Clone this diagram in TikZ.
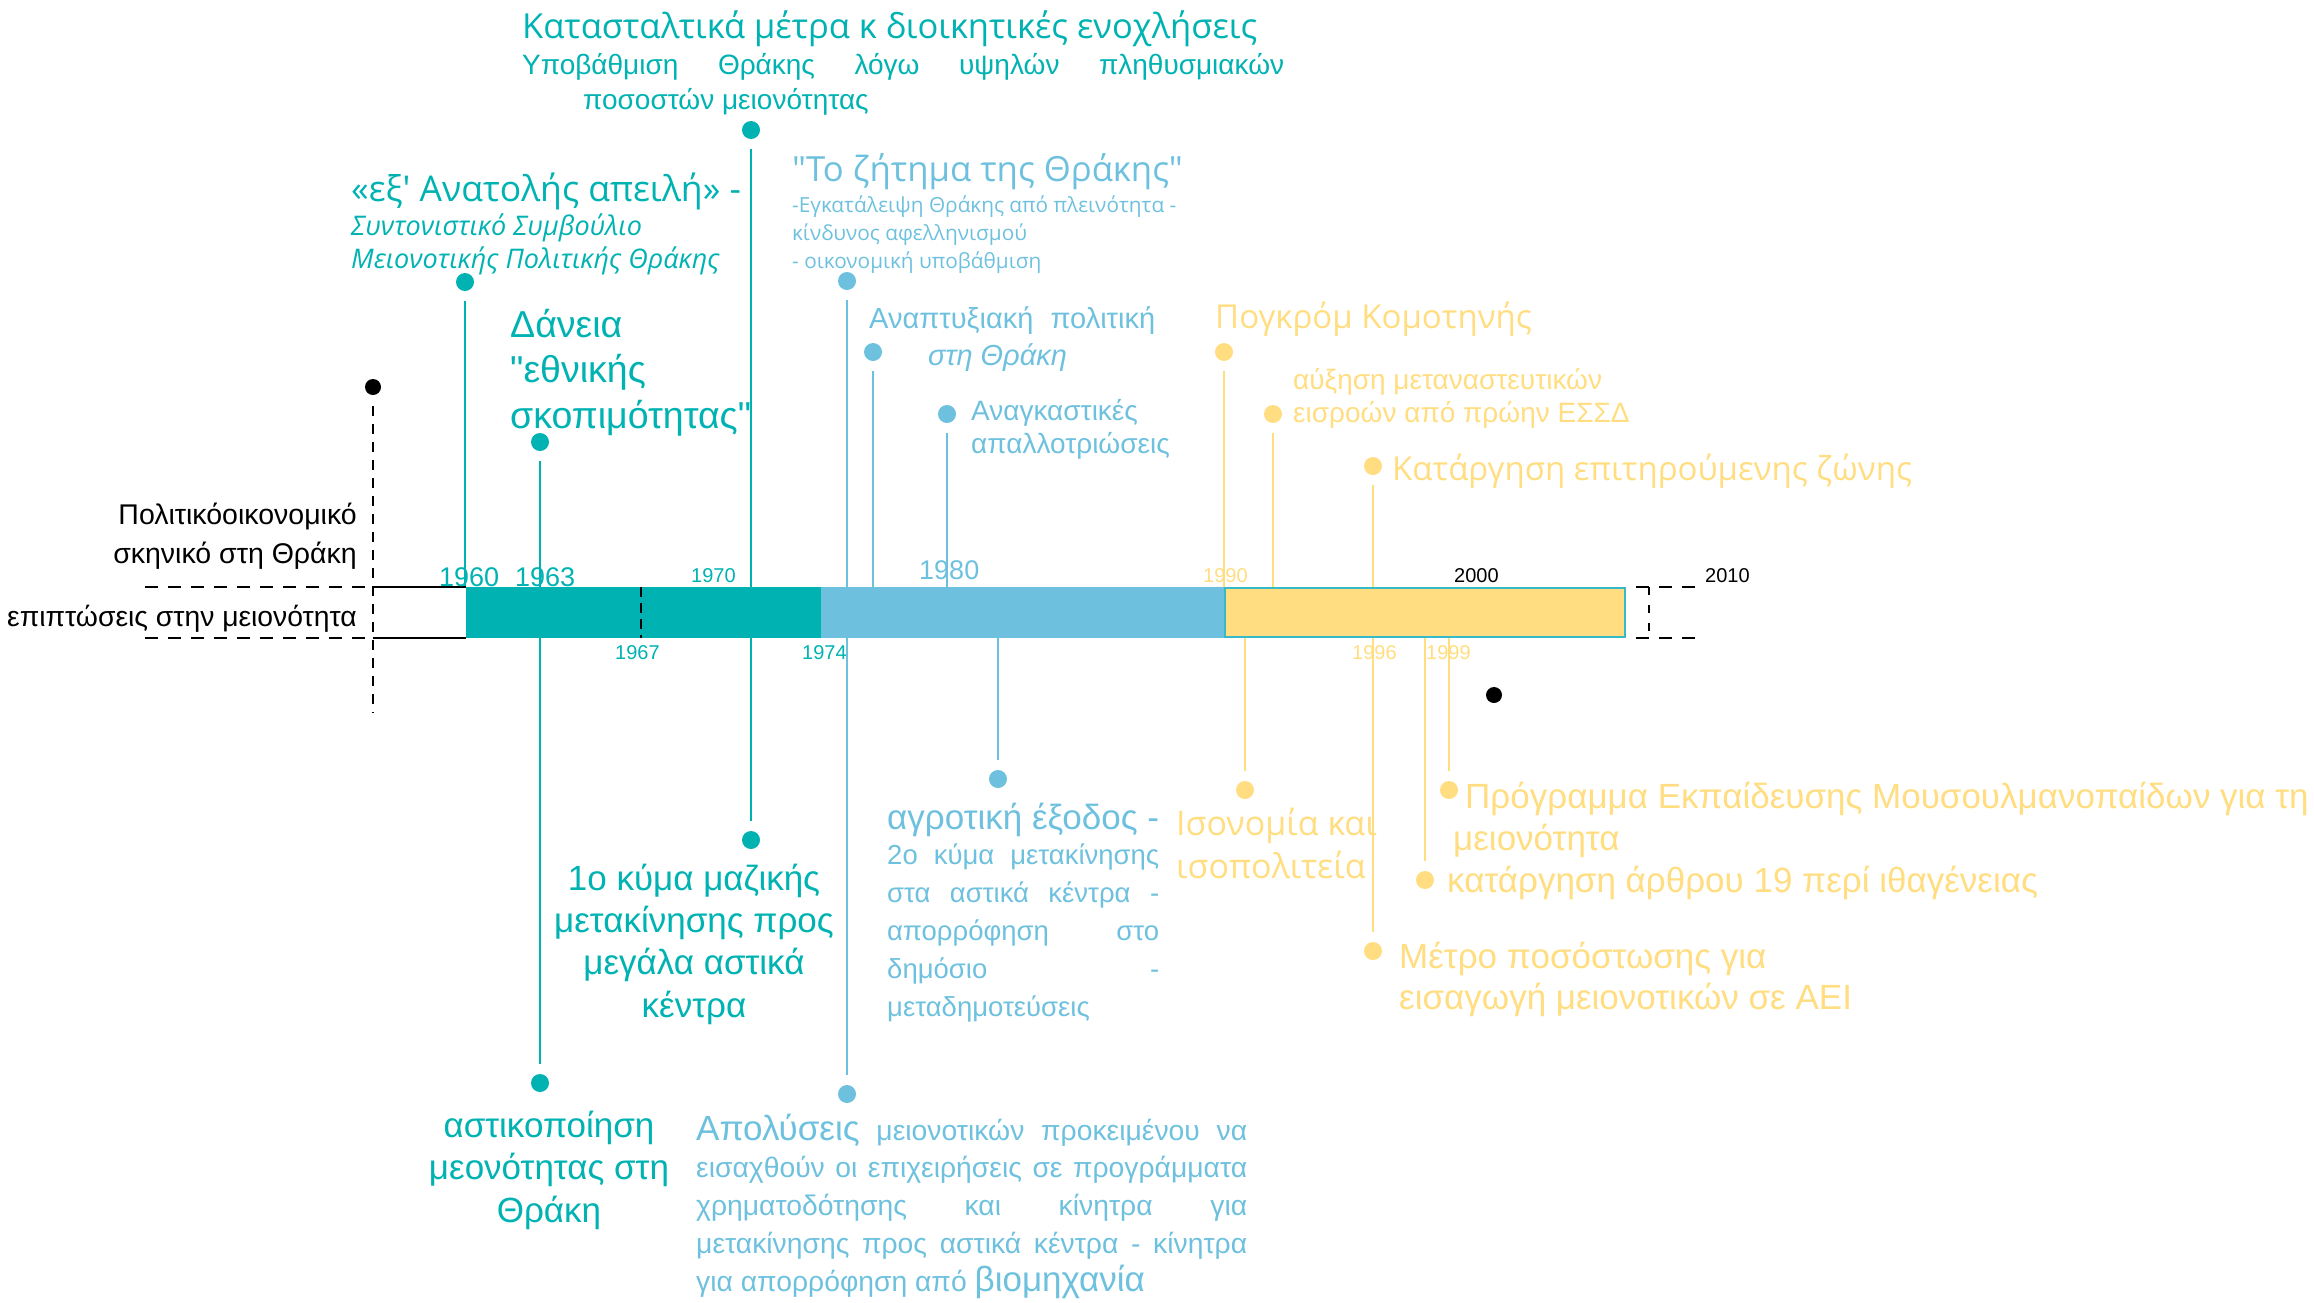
\documentclass[tikz,border=0pt]{standalone}
\usepackage{fontspec}
\setmainfont{Liberation Sans}[Ligatures=TeXOff]
\newfontfamily\opensans{Open Sans}
\definecolor{tealc}{RGB}{0,178,178}
\definecolor{bluec}{RGB}{110,193,222}
\definecolor{yelc}{RGB}{255,221,128}
\newcommand{\fsz}[2]{\fontsize{#1}{#2}\selectfont}

\begin{document}
\begin{tikzpicture}[x=1pt,y=-1pt,
    dot/.style={circle,fill,inner sep=0pt,minimum size=18pt},
    txt/.style={inner sep=0pt,anchor=base west},
    ctxt/.style={inner sep=0pt,anchor=base,align=center},
    evline/.style={line width=1.6pt,shorten <=10pt}]
  \useasboundingbox (0,0) rectangle (2314,1302);
  \coordinate (bartop) at (0,587);
  \coordinate (barbot) at (0,638);

  % Texter, teal (flerradiga noder: sista radens baslinje)
  \node[txt,tealc,font={\opensans\fsz{34.5}{38}}] (titel) at (522,38) {Κατασταλτικά μέτρα κ διοικητικές ενοχλήσεις};
  \node[txt,tealc,font={\fsz{28}{35}},align=left] (hypo) at (522,109) {\makebox[762pt][s]{Υποβάθμιση Θράκης λόγω υψηλών πληθυσμιακών}\\\hspace*{61pt}ποσοστών μειονότητας};
  \node[txt,tealc,font={\opensans\fsz{35.5}{40}}] (anat) at (351,201) {«εξ' Ανατολής απειλή» -};
  \node[txt,tealc,font={\opensans\itshape\fsz{27}{33}},align=left] (symb) at (351,268) {Συντονιστικό Συμβούλιο\\Μειονοτικής Πολιτικής Θράκης};
  \node[txt,tealc,font={\fsz{37.5}{45.5}},align=left] (daneia) at (510,428) {Δάνεια\\"εθνικής\\σκοπιμότητας"};
  \node[ctxt,tealc,font={\fsz{35}{42.3}}] (kyma1) at (694,1017) {1ο κύμα μαζικής\\μετακίνησης προς\\μεγάλα αστικά\\κέντρα};
  \node[ctxt,tealc,font={\fsz{35}{42.5}}] (astik) at (549,1222) {αστικοποίηση\\μεονότητας στη\\Θράκη};

  % Texter, blå
  \node[txt,bluec,font={\opensans\fsz{34.7}{38}}] (zitima) at (792,181) {"Το ζήτημα της Θράκης"};
  \node[txt,bluec,font={\opensans\fsz{20.8}{28}},align=left] (egkat) at (792,268) {-Εγκατάλειψη Θράκης από πλεινότητα -\\κίνδυνος αφελληνισμού\\- οικονομική υποβάθμιση};
  \node[txt,bluec,font={\fsz{29}{37}},align=left] (anapt) at (869,365) {\makebox[286pt][s]{Αναπτυξιακή πολιτική}\\\hspace*{59pt}\textit{στη Θράκη}};
  \node[txt,bluec,font={\fsz{28}{33}},align=left] (anagk) at (971,453) {Αναγκαστικές\\απαλλοτριώσεις};
  \node[txt,bluec,font={\fsz{35}{38}}] (agrot) at (887,829) {αγροτική έξοδος -};
  \node[txt,bluec,font={\fsz{27.5}{38}},align=left] (kyma2) at (887,1016) {\makebox[272pt][s]{2ο κύμα μετακίνησης}\\\makebox[272pt][s]{στα αστικά κέντρα -}\\\makebox[272pt][s]{απορρόφηση στο}\\\makebox[272pt][s]{δημόσιο -}\\μεταδημοτεύσεις};
  \node[txt,bluec,font={\fsz{28.3}{37.75}},align=left] (apol) at (696,1291) {\makebox[551pt][s]{{\fsz{35}{38}Απολύσεις} μειονοτικών προκειμένου να}\\\makebox[551pt][s]{εισαχθούν οι επιχειρήσεις σε προγράμματα}\\\makebox[551pt][s]{χρηματοδότησης και κίνητρα για}\\\makebox[551pt][s]{μετακίνησης προς αστικά κέντρα - κίνητρα}\\για απορρόφηση από {\fsz{35}{38}βιομηχανία}};

  % Texter, gul
  \node[txt,yelc,font={\opensans\fsz{33}{38}}] (pogk) at (1215,328) {Πογκρόμ Κομοτηνής};
  \node[txt,yelc,font={\fsz{28}{33}},align=left] (metan) at (1293,422) {αύξηση μεταναστευτικών\\εισροών από πρώην ΕΣΣΔ};
  \node[txt,yelc,font={\opensans\fsz{33}{38}}] (zoni) at (1392,480) {Κατάργηση επιτηρούμενης ζώνης};
  \node[txt,yelc,font={\opensans\fsz{34}{43}},align=left] (isonom) at (1176,878) {Ισονομία και\\ισοπολιτεία};
  \node[txt,yelc,font={\fsz{35}{42}},align=left] (progr) at (1465,850) {Πρόγραμμα Εκπαίδευσης Μουσουλμανοπαίδων για τη\\\hspace*{-12pt}μειονότητα};
  \node[txt,yelc,font={\fsz{35}{36}}] (arthro) at (1447,892) {κατάργηση άρθρου 19 περί ιθαγένειας};
  \node[txt,yelc,font={\fsz{35}{41}},align=left] (posost) at (1399,1009) {Μέτρο ποσόστωσης για\\εισαγωγή μειονοτικών σε ΑΕΙ};

  % Texter, svart
  \node[inner sep=0pt,anchor=base east,align=right,font={\fsz{28.5}{39}}] (pol) at (357,563) {Πολιτικόοικονομικό\\σκηνικό στη Θράκη};
  \node[inner sep=0pt,anchor=base east,font={\fsz{28.3}{30}}] (epipt) at (357,626) {επιπτώσεις στην μειονότητα};

  % Punkter
  \node[dot,tealc] (d60) at (465,282) {};
  \node[dot,tealc] (d63a) at (540,442) {};
  \node[dot,tealc] (d63b) at (540,1083) {};
  \node[dot,tealc] (d70a) at (751,130) {};
  \node[dot,tealc] (d70b) at (751,840) {};
  \node[dot,bluec] (d74a) at (847,281) {};
  \node[dot,bluec] (d74b) at (847,1094) {};
  \node[dot,bluec] (dpol) at (873,352) {};
  \node[dot,bluec] (d80) at (947,414) {};
  \node[dot,bluec] (dagr) at (998,779) {};
  \node[dot,yelc] (d90) at (1224,352) {};
  \node[dot,yelc] (dmig) at (1273,414) {};
  \node[dot,yelc] (d96a) at (1373,466) {};
  \node[dot,yelc] (d96b) at (1373,951) {};
  \node[dot,yelc] (diso) at (1245,790) {};
  \node[dot,yelc] (d99a) at (1425,880) {};
  \node[dot,yelc] (d99b) at (1449,790) {};
  \node[dot,black,minimum size=16pt] (blk1) at (373,387) {};
  \node[dot,black,minimum size=16pt] (blk2) at (1494,695) {};

  % Linjer
  \draw[evline,tealc] (d60) -- (d60 |- bartop);
  \draw[evline,tealc,shorten >=10pt] (d63a) -- (d63b);
  \draw[evline,tealc,shorten >=10pt] (d70a) -- (d70b);
  \draw[evline,bluec,shorten >=10pt] (d74a) -- (d74b);
  \draw[evline,bluec] (dpol) -- (dpol |- bartop);
  \draw[evline,bluec] (d80) -- (d80 |- bartop);
  \draw[evline,bluec] (dagr) -- (dagr |- barbot);
  \draw[evline,yelc] (d90) -- (d90 |- bartop);
  \draw[evline,yelc] (dmig) -- (dmig |- bartop);
  \draw[evline,yelc,shorten >=10pt] (d96a) -- (d96b);
  \draw[evline,yelc] (diso) -- (diso |- barbot);
  \draw[evline,yelc] (d99a) -- (d99a |- barbot);
  \draw[evline,yelc] (d99b) -- (d99b |- barbot);

  % Balk
  \fill[tealc] (466,587) rectangle (821,638);
  \fill[bluec] (821,587) rectangle (1225,638);
  \filldraw[fill=yelc,draw=tealc!50!bluec,line width=1.5pt] (1225,588) rectangle (1625,637);

  % Ram
  \draw[line width=1.5pt] (373,587) -- (466,587) (373,638) -- (466,638);
  \draw[line width=1.5pt,dash pattern=on 13pt off 10pt] (145,587) -- (373,587) (145,638) -- (373,638);
  \draw[line width=1.5pt,dash pattern=on 10pt off 8pt,shorten <=11pt] (blk1) -- (373,713);
  \draw[line width=1.5pt,dash pattern=on 10pt off 6pt] (641,587) -- (641,638);
  \draw[line width=1.5pt,dash pattern=on 13pt off 10pt] (1636,587) -- (1700,587) (1636,638) -- (1700,638);
  \draw[line width=1.5pt,dash pattern=on 8pt off 10pt] (1649,587) -- (1649,638);

  % Årtal
  \node[txt,tealc,font={\fsz{27}{30}}] (y60) at (439,586) {1960};
  \node[txt,tealc,font={\fsz{27}{30}}] (y63) at (515,586) {1963};
  \node[txt,bluec,font={\fsz{27}{30}}] (y80) at (919,579) {1980};
  \foreach \xx/\yy/\lab/\col in {691/582/1970/tealc, 1203/582/1990/yelc, 1454/582/2000/black,
      1705/582/2010/black, 615/659/1967/tealc, 802/659/1974/tealc, 1352/659/1996/yelc, 1426/659/1999/yelc}
    \node[txt,color=\col,font={\fsz{20}{24}}] (y\lab) at (\xx,\yy) {\lab};
\end{tikzpicture}
\end{document}
